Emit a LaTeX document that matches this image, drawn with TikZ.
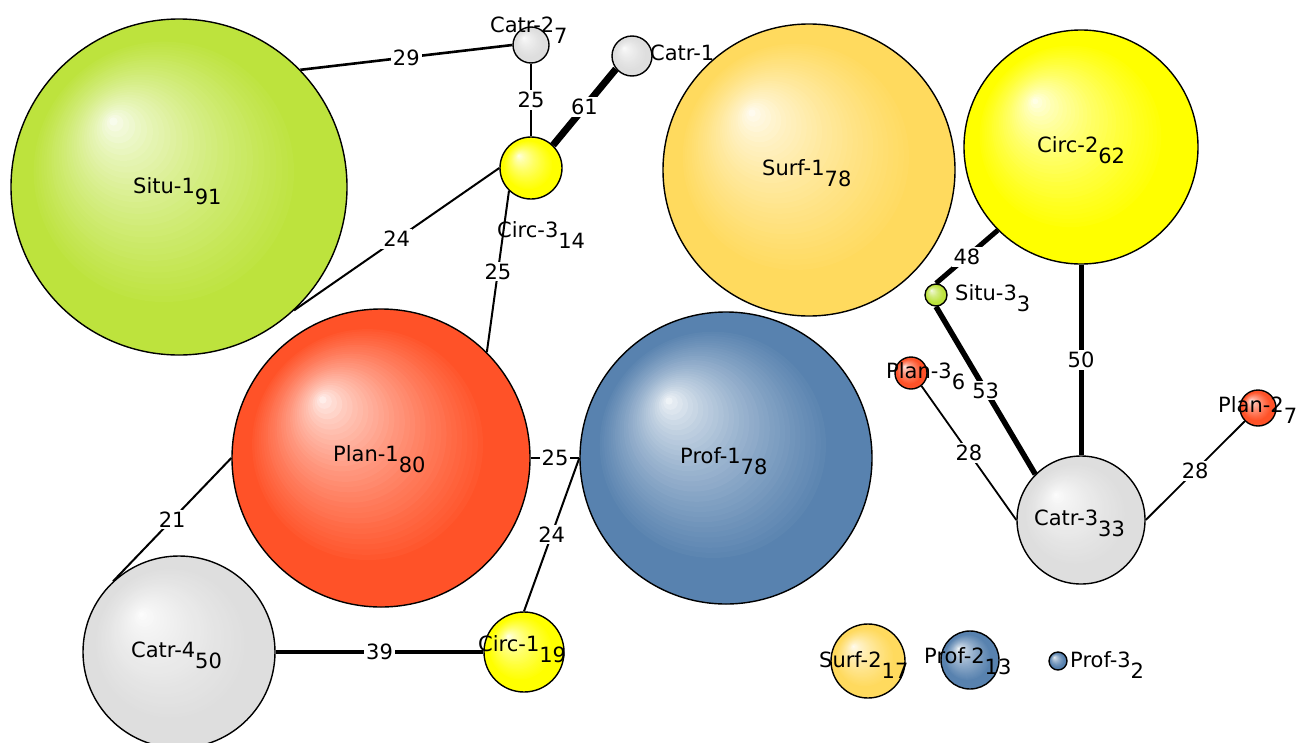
\documentclass[tikz,border=0pt]{standalone}
\usepackage{fontspec}
\setmainfont{DejaVu Sans}
\usetikzlibrary{calc}
\definecolor{cGreen}{RGB}{189,227,61}
\definecolor{cGray}{RGB}{222,222,222}
\definecolor{cYellow}{RGB}{255,255,0}
\definecolor{cGold}{RGB}{255,218,94}
\definecolor{cRed}{RGB}{255,82,40}
\definecolor{cBlue}{RGB}{88,130,175}
\newcommand\ballfill[2]{%
  \foreach \k in {40,39,...,1}{%
    \pgfmathsetmacro\tt{\k/40}%
    \pgfmathtruncatemacro\pc{100*min(1,(\tt/0.8)^0.65)}%
    \pgfmathsetmacro\off{0.4*#2*(1-\tt)}%
    \pgfmathsetmacro\rad{#2*\tt}%
    \fill[#1!\pc!white] ($(path picture bounding box.center)+(-\off pt,\off pt)$) circle[radius=\rad pt];%
  }}
\newcommand\lbsub[2]{#1\raisebox{-11pt}{#2}}
\pgfdeclarelayer{background}
\pgfsetlayers{background,main}
\tikzset{
  ball/.style n args={2}{circle, draw=black, line width=1.4pt, inner sep=0pt, minimum size=2*#2pt, fill=#1, path picture={\ballfill{#1}{#2}}},
  lnk/.style={line width=#1, draw=black},
  elab/.style={fill=white, inner sep=2pt},
  nlab/.style={anchor=base west, inner sep=0pt},
}
\begin{document}
\begin{tikzpicture}[x=1pt,y=-1pt, every node/.append style={font=\fontsize{21}{25}\selectfont}]
\useasboundingbox (0,0) rectangle (1298,742);
% nodes (circles) with labels, in drawing order
\node[ball={cGreen}{168}] (situ1) at (179,187) {};
\node[nlab] (tsitu1) at (133,193) {\lbsub{Situ-1}{91}};
\node[ball={cGray}{18}] (catr2) at (531,45) {};
\node[nlab] (tcatr2) at (490,32) {\lbsub{Catr-2}{7}};
\node[ball={cGray}{20}] (catr1) at (632,56) {};
\node[nlab] (tcatr1) at (650,60) {Catr-1};
\node[ball={cYellow}{31}] (circ3) at (531,168) {};
\node[nlab] (tcirc3) at (497,237) {\lbsub{Circ-3}{14}};
\node[ball={cGold}{146}] (surf1) at (809,170) {};
\node[nlab] (tsurf1) at (762,175) {\lbsub{Surf-1}{78}};
\node[ball={cYellow}{117}] (circ2) at (1081,147) {};
\node[nlab] (tcirc2) at (1037,152) {\lbsub{Circ-2}{62}};
\node[ball={cGreen}{11}] (situ3) at (936,295) {};
\node[nlab] (tsitu3) at (955,300) {\lbsub{Situ-3}{3}};
\node[ball={cRed}{16}] (plan3) at (911,373) {};
\node[nlab] (tplan3) at (886,378) {\lbsub{Plan-3}{6}};
\node[ball={cRed}{18}] (plan2) at (1258,408) {};
\node[nlab] (tplan2) at (1218,412) {\lbsub{Plan-2}{7}};
\node[ball={cGray}{64}] (catr3) at (1081,520) {};
\node[nlab] (tcatr3) at (1034,525) {\lbsub{Catr-3}{33}};
\node[ball={cRed}{149}] (plan1) at (381,458) {};
\node[nlab] (tplan1) at (333,461) {\lbsub{Plan-1}{80}};
\node[ball={cBlue}{146}] (prof1) at (726,458) {};
\node[nlab] (tprof1) at (680,463) {\lbsub{Prof-1}{78}};
\node[ball={cGray}{96}] (catr4) at (179,652) {};
\node[nlab] (tcatr4) at (131,657) {\lbsub{Catr-4}{50}};
\node[ball={cYellow}{40}] (circ1) at (524,652) {};
\node[nlab] (tcirc1) at (478,651) {\lbsub{Circ-1}{19}};
\node[ball={cGold}{37}] (surf2) at (868,661) {};
\node[nlab] (tsurf2) at (819,667) {\lbsub{Surf-2}{17}};
\node[ball={cBlue}{29}] (prof2) at (970,660) {};
\node[nlab] (tprof2) at (924,663) {\lbsub{Prof-2}{13}};
\node[ball={cBlue}{9}] (prof3) at (1058,661) {};
\node[nlab] (tprof3) at (1070,667) {\lbsub{Prof-3}{2}};
% edges
\begin{pgfonlayer}{background}
\draw[lnk=2.6pt] (situ1.44) -- node[elab] (e1) {29} (catr2.180);
\draw[lnk=2.6pt] (catr2.270) -- node[elab] (e2) {25} (circ3.90);
\draw[lnk=7pt] (catr1.219) -- node[elab] (e3) {61} (circ3.46);
\draw[lnk=2pt] (situ1.313.5) -- node[elab] (e4) {24} (circ3.180);
\draw[lnk=2pt] (circ3.226) -- node[elab] (e5) {25} (plan1.45);
\draw[lnk=2pt] (plan1.0) -- node[elab] (e6) {25} (prof1.180);
\draw[lnk=2pt] (plan1.180) -- node[elab] (e7) {21} (catr4.133);
\draw[lnk=2pt] (prof1.180) -- node[elab] (e8) {24} (circ1.90);
\draw[lnk=3.5pt] (catr4.0) -- node[elab] (e9) {39} (circ1.180);
\draw[lnk=5pt] (circ2.225.7) -- node[elab] (e10) {48} (situ3.90);
\draw[lnk=5pt] (circ2.270) -- node[elab] (e11) {50} (catr3.90);
\draw[lnk=5.5pt] (situ3.270) -- node[elab] (e12) {53} (catr3.135);
\draw[lnk=1.8pt] (plan3.309) -- node[elab] (e13) {28} (catr3.180);
\draw[lnk=1.8pt] (plan2.225) -- node[elab] (e14) {28} (catr3.0);
\end{pgfonlayer}
\end{tikzpicture}
\end{document}
